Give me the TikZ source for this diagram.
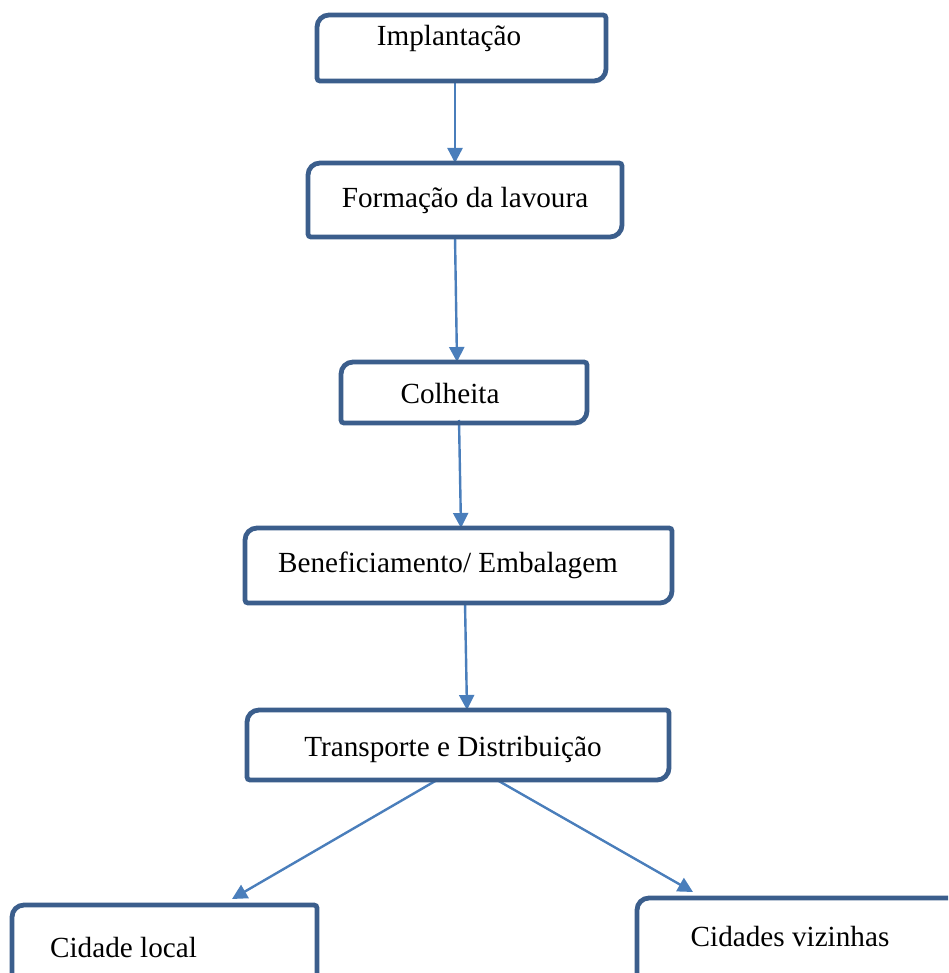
\documentclass[tikz,border=0pt]{standalone}
\usepackage{fontspec}
\setmainfont{Liberation Serif}
\usepackage{tikz}
\usetikzlibrary{arrows.meta,positioning,calc}
\definecolor{boxblue}{HTML}{3B5E8C}
\definecolor{arrowblue}{HTML}{4A7EBB}
\newcommand{\stageframe}[1]{%
  \draw[frame] (#1.west) [rounded corners=6pt] -- (#1.north west) -- (#1.north)
    [rounded corners=1.5pt] -- (#1.north east) -- (#1.east)
    [rounded corners=6pt] -- (#1.south east) -- (#1.south)
    [rounded corners=1.5pt] -- (#1.south west) -- cycle;}

\begin{document}
\begin{tikzpicture}[
    x=0.5pt, y=-0.5pt,
    stage/.style={inner sep=0pt, outer sep=0pt},
    frame/.style={draw=boxblue, line width=2.4pt},
    label/.style={font=\fontsize{14.6}{17}\selectfont, inner sep=0pt},
    edge/.style={-{Triangle[length=7.5pt,width=7.5pt]}, draw=arrowblue, fill=arrowblue, line width=1.2pt}
]
\path[use as bounding box, clip] (0,0) rectangle (948,973);

\node[stage, minimum width=144.5pt, minimum height=33pt] (impl) at (461.5,48) {};
\node[stage, minimum width=157pt, minimum height=37pt] (form) at (465,200) {};
\node[stage, minimum width=123pt, minimum height=30.5pt] (colh) at (464,392.5) {};
\node[stage, minimum width=213.5pt, minimum height=37.5pt] (bene) at (458.5,565.5) {};
\node[stage, minimum width=211pt, minimum height=35pt] (trans) at (458,745) {};
\node[stage, minimum width=152.5pt, minimum height=50pt] (local) at (164.5,955) {};
\node[stage, minimum width=181.5pt, minimum height=51pt] (viz) at (818.5,949) {};

\node[label] (impl-t) at (449,38) {Implantação};
\node[label] (form-t) at (465,200) {Formação da lavoura};
\node[label] (colh-t) at (450,394) {Colheita};
\node[label] (bene-t) at (448,565) {Beneficiamento/ Embalagem};
\node[label] (trans-t) at (453,749) {Transporte e Distribuição};
\node[label] (local-t) at (123.5,947) {Cidade local};
\node[label] (viz-t) at (790,936) {Cidades vizinhas};

\draw[edge] ([xshift=-3.25pt]impl.south) -- ([xshift=-5pt]form.north);
\draw[edge] ([xshift=-5pt]form.south) -- ([xshift=-3.5pt]colh.north);
\draw[edge] ([xshift=-2.5pt,yshift=1.5pt]colh.south) -- ([xshift=1.25pt]bene.north);
\draw[edge] ([xshift=3.25pt]bene.south) -- ([xshift=4.5pt]trans.north);
\draw[edge] ([xshift=-10.5pt]trans.south) -- ([xshift=33.75pt,yshift=3pt]local.north);
\draw[edge] ([xshift=19.5pt]trans.south) -- ([xshift=-62.75pt,yshift=3pt]viz.north);

\stageframe{impl}
\stageframe{form}
\stageframe{colh}
\stageframe{bene}
\stageframe{trans}
\stageframe{local}
\stageframe{viz}
\end{tikzpicture}
\end{document}
